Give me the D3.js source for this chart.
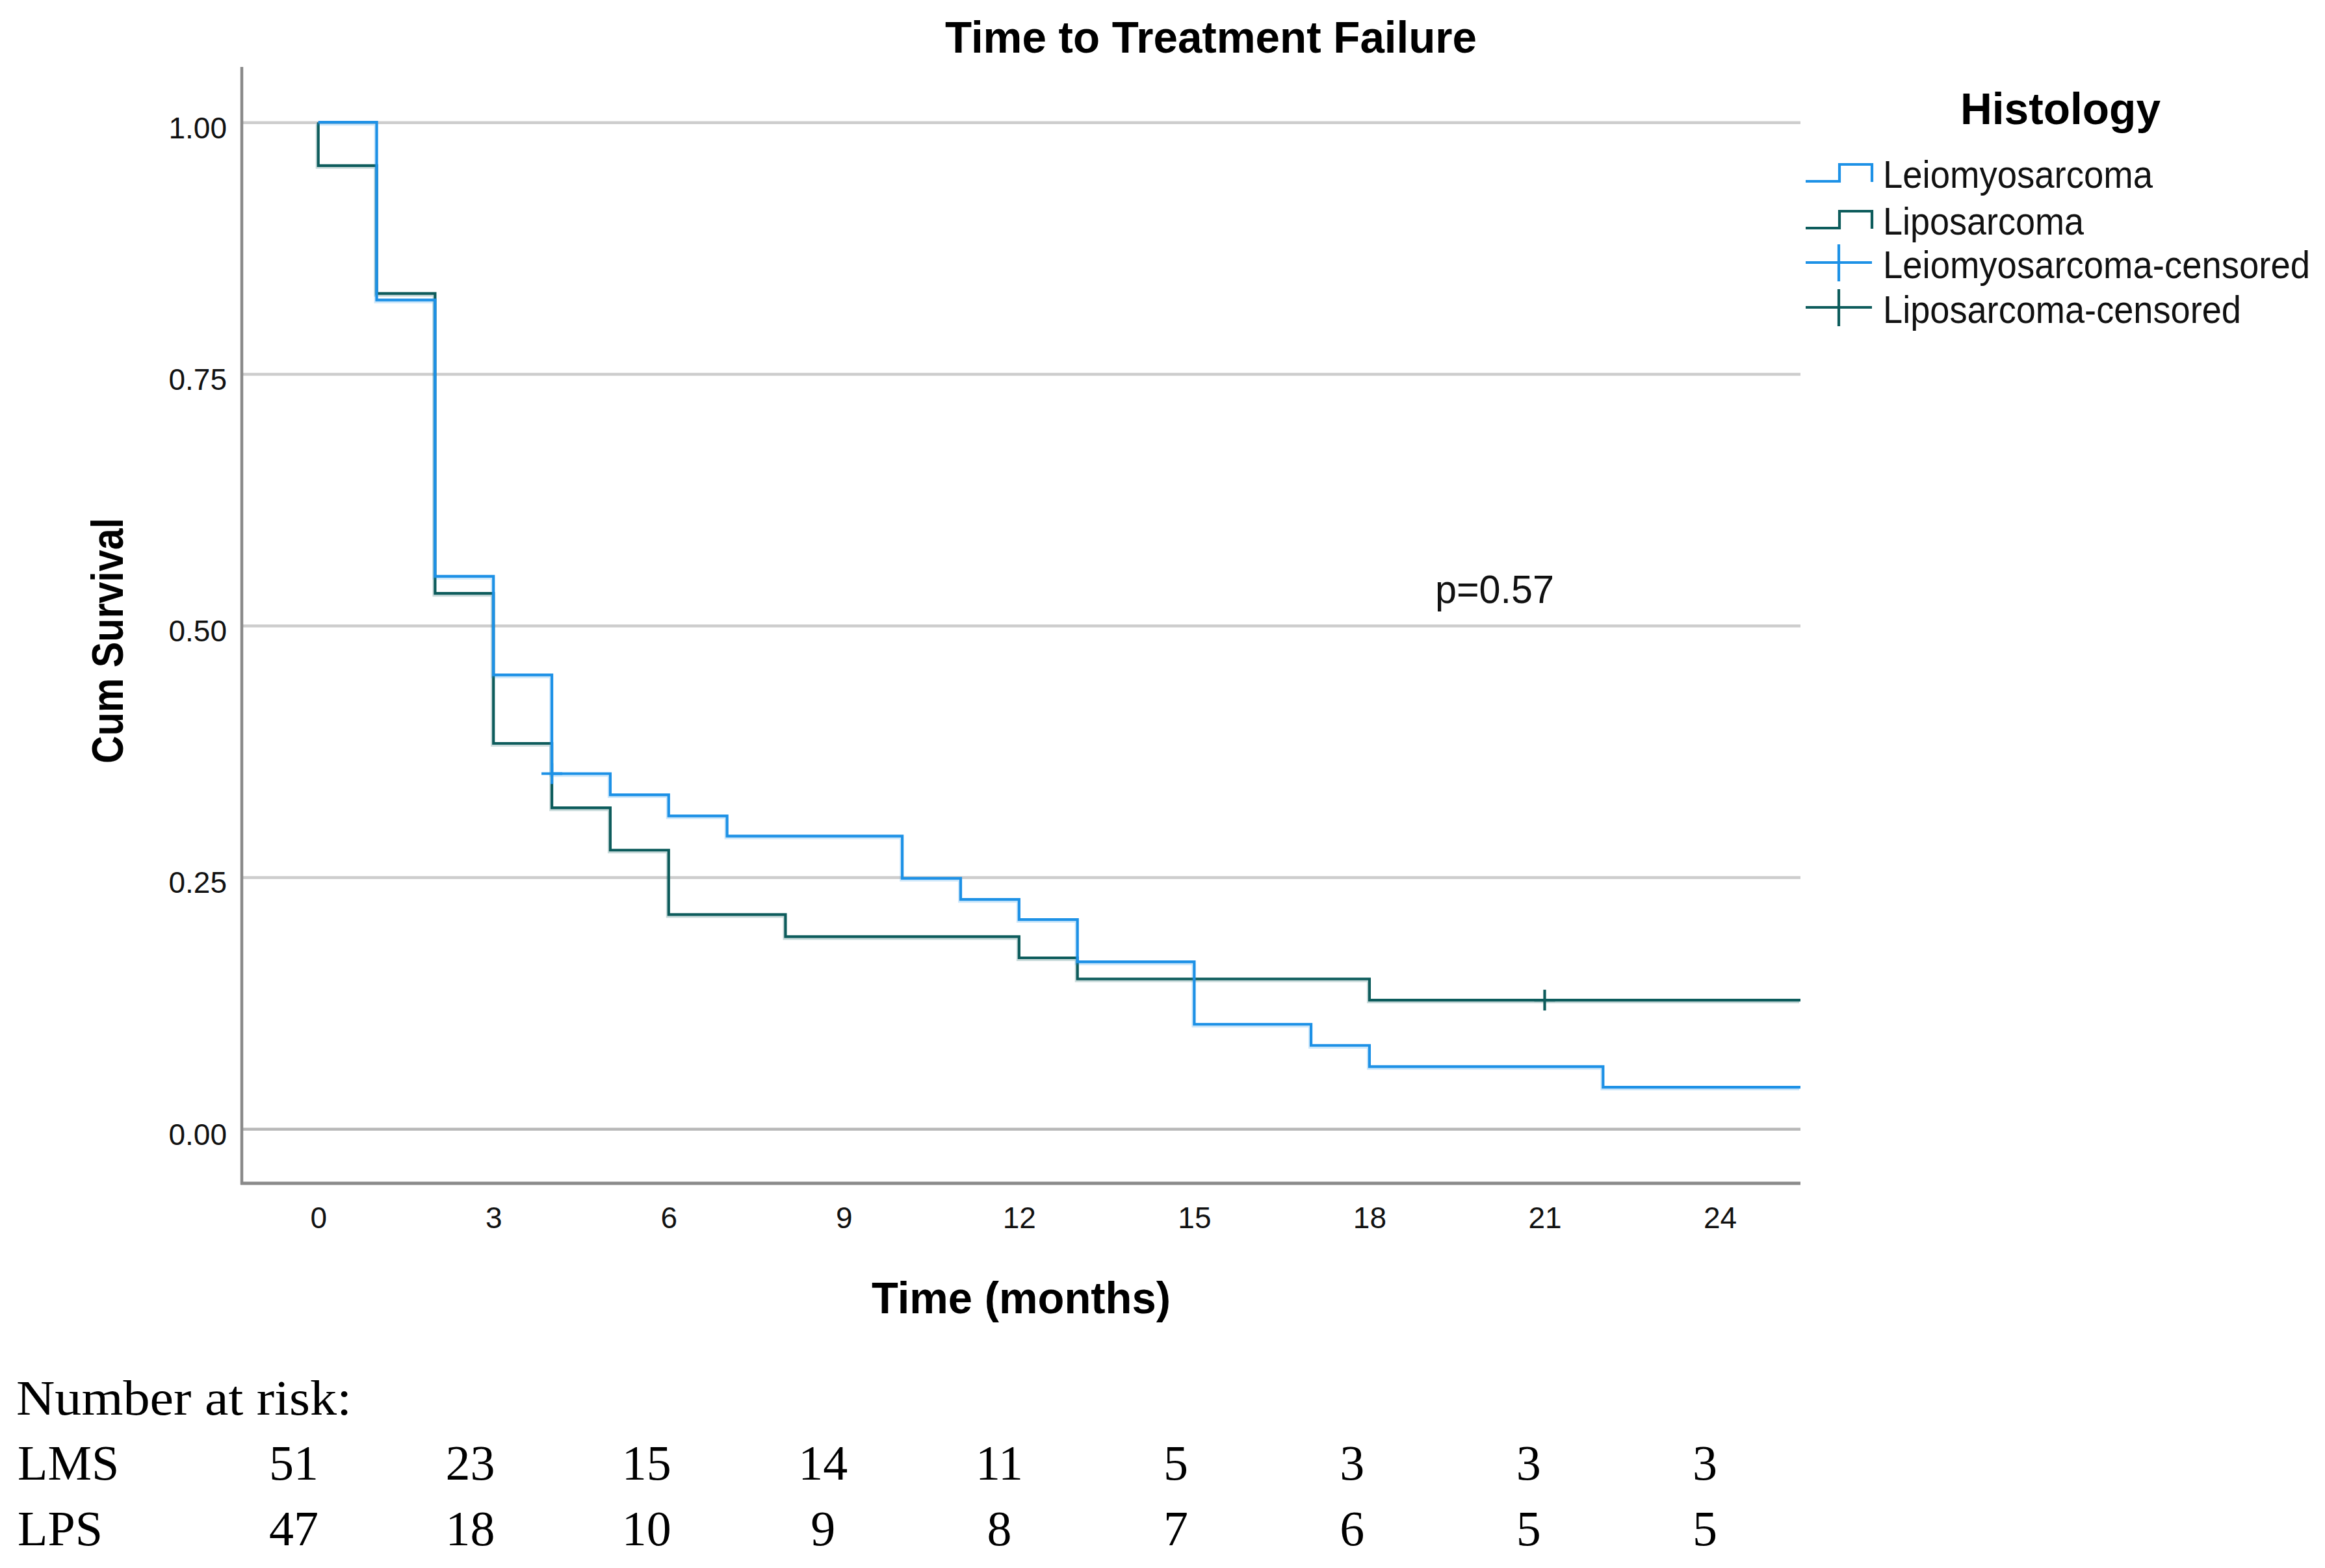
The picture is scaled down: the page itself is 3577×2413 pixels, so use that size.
<!DOCTYPE html>
<html>
<head>
<meta charset="utf-8">
<script src="https://cdn.jsdelivr.net/npm/d3@7"></script>
<style>
  body { margin: 0; background: #fff; }
  svg { display: block; background: #fff; }
</style>
</head>
<body>
<svg id="chart" width="3577" height="2413"></svg>
<script>
// ---------------- DATA ----------------
const chartTitle = "Time to Treatment Failure";
const legendTitle = "Histology";
const seriesNames = ["Leiomyosarcoma", "Liposarcoma"];
const censoredNames = ["Leiomyosarcoma-censored", "Liposarcoma-censored"];

// Kaplan-Meier step points (time in months, cumulative survival)
const lmsTimes = [0, 1, 2, 3, 4, 5, 6, 7, 10, 11, 12, 13, 15, 17, 18, 22];
const lmsSurv  = [1.0, 0.8235, 0.549, 0.451, 0.353, 0.332, 0.311, 0.291, 0.249, 0.228, 0.208, 0.166, 0.104, 0.083, 0.062, 0.0415];
const lpsTimes = [0, 0, 1, 2, 3, 4, 5, 6, 8, 12, 13, 18];
const lpsSurv  = [1.0, 0.957, 0.830, 0.532, 0.383, 0.319, 0.277, 0.213, 0.191, 0.170, 0.149, 0.128];

// censored observations
const lmsCensTimes = [4];
const lmsCensSurv  = [0.353];
const lpsCensTimes = [21];
const lpsCensSurv  = [0.128];

const pValueLabel = "p=0.57";

const xTicks = [0, 3, 6, 9, 12, 15, 18, 21, 24];
const yTicks = [0, 0.25, 0.5, 0.75, 1.0];

// number at risk
const riskLabel = "Number at risk:";
const riskGroups = ["LMS", "LPS"];
const riskTimes = [0, 3, 6, 9, 12, 15, 18, 21, 24];
const lmsRisk = [51, 23, 15, 14, 11, 5, 3, 3, 3];
const lpsRisk = [47, 18, 10, 9, 8, 7, 6, 5, 5];

// ---------------- LAYOUT / STYLE ----------------
const W = 3577, H = 2413;
const plot = { left: 372, right: 2770, top: 103, bottom: 1821 };
const xDomain = [-1.31, 25.38];
const yDomain = [-0.054, 1.055];
const colors = { lms: "#1d91e6", lpsC: "#0d5c5c" };
const sans = "'Liberation Sans', Arial, Helvetica, sans-serif";
const serif = "'Liberation Serif', 'Times New Roman', serif";

const svg = d3.select("#chart");

const x = d3.scaleLinear().domain(xDomain).range([plot.left, plot.right]);
const y = d3.scaleLinear().domain(yDomain).range([plot.bottom, plot.top]);

// gridlines
const grid = svg.append("g")
  .attr("transform", `translate(${plot.left},0)`)
  .call(d3.axisLeft(y).tickValues(yTicks).tickSize(-(plot.right - plot.left)).tickFormat(""));
grid.select(".domain").remove();
grid.selectAll(".tick line")
  .attr("stroke", d => d === 0 ? "#b8b8b8" : "#cdcdcd")
  .attr("stroke-width", 4.5);

// y tick labels
const yAxis = svg.append("g")
  .attr("transform", `translate(${plot.left},0)`)
  .call(d3.axisLeft(y).tickValues(yTicks).tickSize(0).tickPadding(23).tickFormat(d3.format(".2f")));
yAxis.select(".domain").remove();
yAxis.selectAll("text")
  .attr("font-family", sans).attr("font-size", 46).attr("fill", "#111")
  .attr("dy", "0.52em");

// x tick labels
const xAxis = svg.append("g")
  .attr("transform", `translate(0,${plot.bottom})`)
  .call(d3.axisBottom(x).tickValues(xTicks).tickSize(0).tickPadding(36).tickFormat(d3.format("d")));
xAxis.select(".domain").remove();
xAxis.selectAll("text")
  .attr("font-family", sans).attr("font-size", 46).attr("fill", "#111");

// axis frame lines
svg.append("line")
  .attr("x1", plot.left).attr("x2", plot.left)
  .attr("y1", plot.top).attr("y2", plot.bottom + 2)
  .attr("stroke", "#8a8a8a").attr("stroke-width", 4.5);
svg.append("line")
  .attr("x1", plot.left - 2).attr("x2", plot.right)
  .attr("y1", plot.bottom).attr("y2", plot.bottom)
  .attr("stroke", "#8a8a8a").attr("stroke-width", 5);

// survival curves
const stepLine = d3.line().x(d => x(d[0])).y(d => y(d[1])).curve(d3.curveStepAfter);

function curvePoints(times, surv) {
  const pts = times.map((t, i) => [t, surv[i]]);
  pts.push([x.domain()[1], surv[surv.length - 1]]);
  return pts;
}

const curves = [
  { pts: curvePoints(lpsTimes, lpsSurv), color: colors.lpsC },
  { pts: curvePoints(lmsTimes, lmsSurv), color: colors.lms }
];

const curveG = svg.append("g");
curves.forEach(c => {
  curveG.append("path")
    .attr("d", stepLine(c.pts))
    .attr("fill", "none")
    .attr("stroke", c.color)
    .attr("stroke-opacity", 0.22)
    .attr("stroke-width", 4)
    .attr("transform", "translate(-2,3)");
  curveG.append("path")
    .attr("d", stepLine(c.pts))
    .attr("fill", "none")
    .attr("stroke", c.color)
    .attr("stroke-width", 4.2);
});

// censor marks
const cens = [
  { t: lmsCensTimes, s: lmsCensSurv, color: colors.lms },
  { t: lpsCensTimes, s: lpsCensSurv, color: colors.lpsC }
];
cens.forEach(c => {
  c.t.forEach((t, i) => {
    const cx = x(t), cy = y(c.s[i]);
    curveG.append("line").attr("x1", cx).attr("x2", cx).attr("y1", cy - 16).attr("y2", cy + 16)
      .attr("stroke", c.color).attr("stroke-width", 4.2);
    curveG.append("line").attr("x1", cx - 16).attr("x2", cx + 16).attr("y1", cy).attr("y2", cy)
      .attr("stroke", c.color).attr("stroke-width", 4.2);
  });
});

// title
svg.append("text")
  .attr("x", 1863).attr("y", 81).attr("text-anchor", "middle")
  .attr("font-family", sans).attr("font-size", 68).attr("font-weight", "bold")
  .attr("textLength", 818).attr("lengthAdjust", "spacingAndGlyphs")
  .text(chartTitle);

// axis titles
svg.append("text")
  .attr("x", (plot.left + plot.right) / 2).attr("y", 2021).attr("text-anchor", "middle")
  .attr("font-family", sans).attr("font-size", 68).attr("font-weight", "bold")
  .attr("textLength", 460).attr("lengthAdjust", "spacingAndGlyphs")
  .text("Time (months)");

svg.append("text")
  .attr("transform", "translate(189,986) rotate(-90)")
  .attr("text-anchor", "middle")
  .attr("font-family", sans).attr("font-size", 68).attr("font-weight", "bold")
  .attr("textLength", 378).attr("lengthAdjust", "spacingAndGlyphs")
  .text("Cum Survival");

// p-value
svg.append("text")
  .attr("x", 2208).attr("y", 928)
  .attr("font-family", sans).attr("font-size", 62)
  .attr("textLength", 183).attr("lengthAdjust", "spacingAndGlyphs")
  .attr("fill", "#111")
  .text(pValueLabel);

// legend
const lg = svg.append("g");
lg.append("text")
  .attr("x", 3016).attr("y", 191)
  .attr("font-family", sans).attr("font-size", 68).attr("font-weight", "bold")
  .attr("textLength", 308).attr("lengthAdjust", "spacingAndGlyphs")
  .text(legendTitle);

const legendItems = [
  { name: seriesNames[0], color: colors.lms, type: "step", base: 289, len: 415 },
  { name: seriesNames[1], color: colors.lpsC, type: "step", base: 361, len: 309 },
  { name: censoredNames[0], color: colors.lms, type: "cross", base: 428, len: 657 },
  { name: censoredNames[1], color: colors.lpsC, type: "cross", base: 497, len: 551 }
];
legendItems.forEach(it => {
  if (it.type === "step") {
    const lo = it.base - 10, hi = it.base - 36;
    lg.append("path")
      .attr("d", `M2778,${lo} H2830 V${hi} H2880 V${lo + 1}`)
      .attr("fill", "none").attr("stroke", it.color).attr("stroke-width", 4.2);
  } else {
    const cy = it.base - 24;
    lg.append("line").attr("x1", 2778).attr("x2", 2880).attr("y1", cy).attr("y2", cy)
      .attr("stroke", it.color).attr("stroke-width", 4.2);
    lg.append("line").attr("x1", 2829).attr("x2", 2829).attr("y1", cy - 28).attr("y2", cy + 29)
      .attr("stroke", it.color).attr("stroke-width", 4.2);
  }
  lg.append("text")
    .attr("x", 2897).attr("y", it.base)
    .attr("font-family", "'Liberation Sans Narrow', " + sans).attr("font-size", 59)
    .attr("textLength", it.len).attr("lengthAdjust", "spacingAndGlyphs")
    .attr("fill", "#111")
    .text(it.name);
});

// number at risk table
const riskX = d3.scaleLinear().domain([0, 24]).range([452, 2623]);
const rg = svg.append("g").attr("font-family", serif).attr("font-size", 76).attr("fill", "#000");
rg.append("text").attr("x", 25).attr("y", 2177)
  .attr("textLength", 516).attr("lengthAdjust", "spacingAndGlyphs")
  .text(riskLabel);
const riskRows = [
  { label: riskGroups[0], vals: lmsRisk, base: 2277 },
  { label: riskGroups[1], vals: lpsRisk, base: 2378 }
];
riskRows.forEach(r => {
  rg.append("text").attr("x", 27).attr("y", r.base).text(r.label);
  rg.selectAll(null).data(riskTimes).enter().append("text")
    .attr("x", t => riskX(t)).attr("y", r.base).attr("text-anchor", "middle")
    .text((t, i) => r.vals[i]);
});
</script>
</body>
</html>
